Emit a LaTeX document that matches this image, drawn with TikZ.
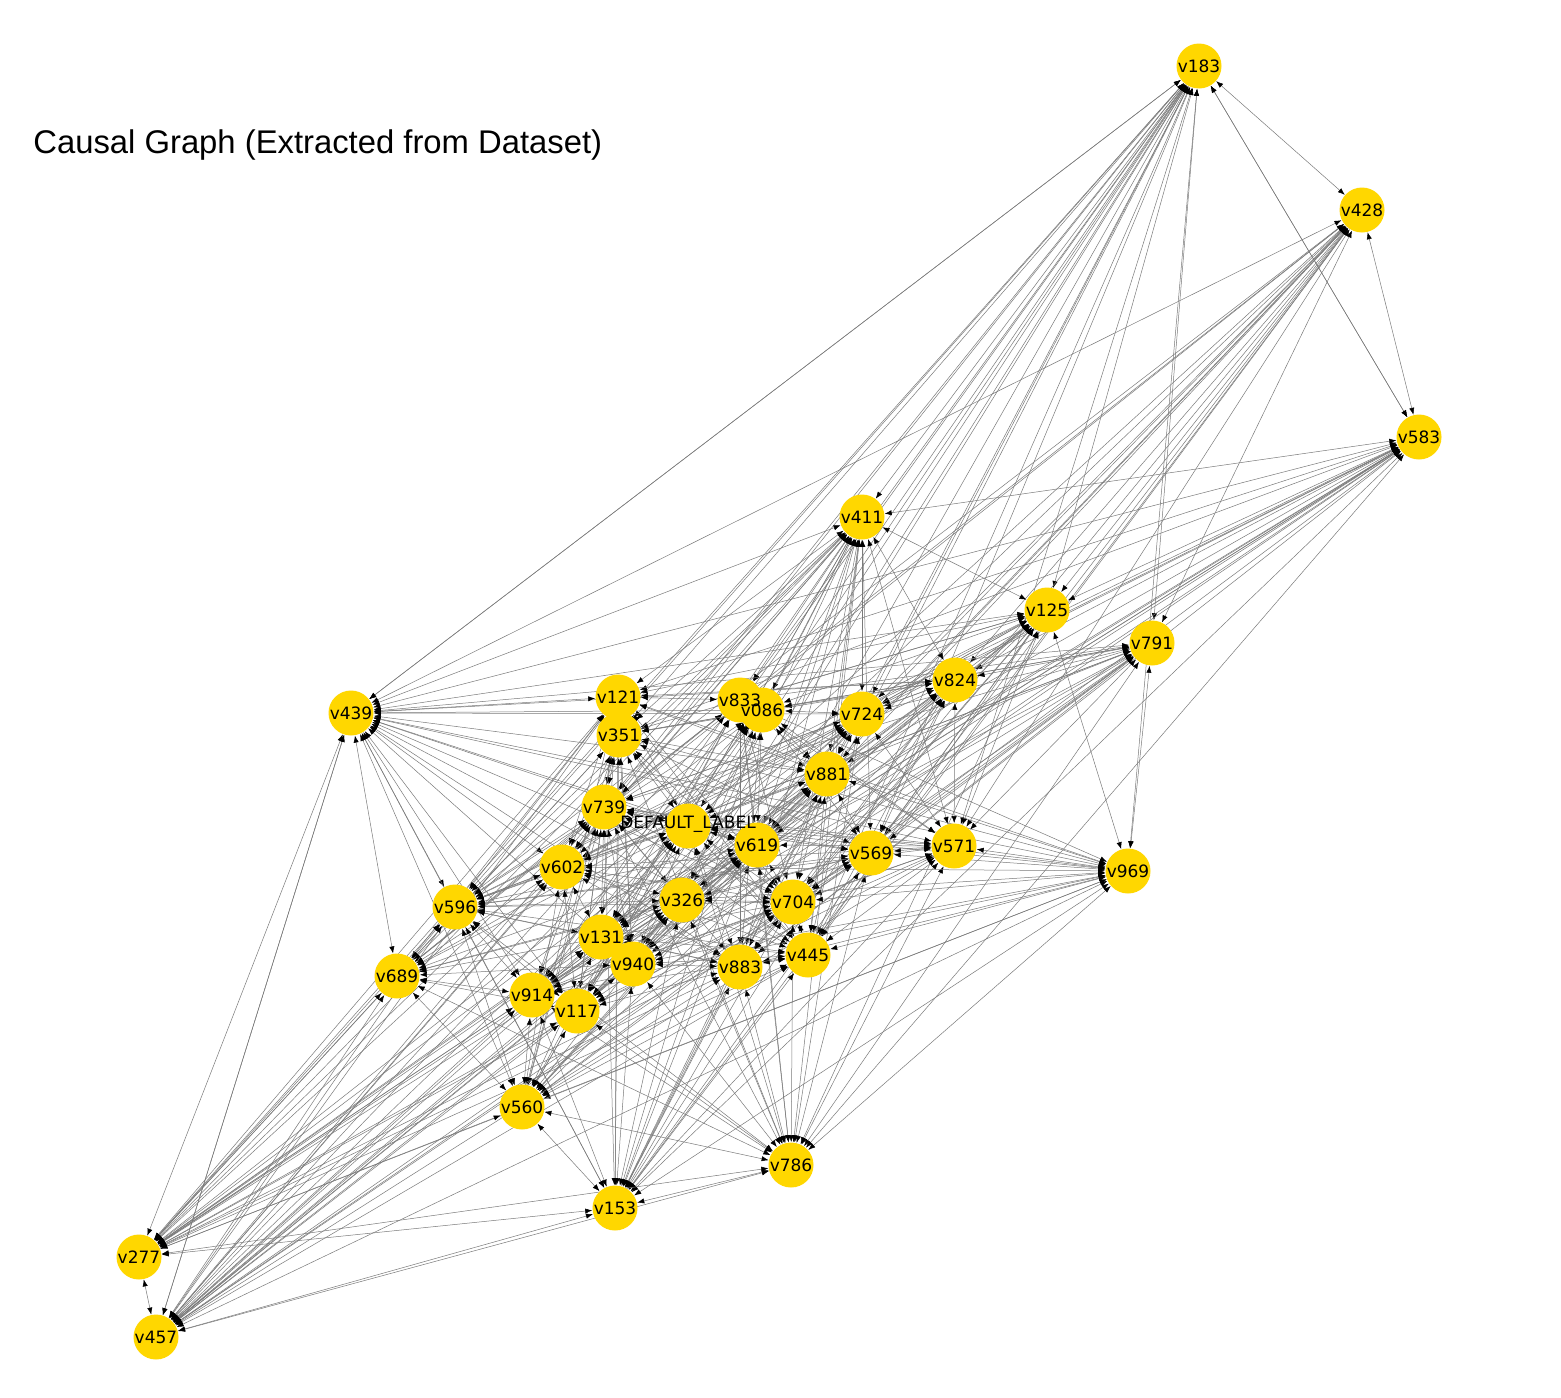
\documentclass[tikz,border=0pt]{standalone}
\usepackage{fontspec}
\setmainfont{DejaVu Sans}
\newfontfamily\titlefont{Liberation Sans}
\usetikzlibrary{arrows.meta}
\definecolor{nodeyellow}{HTML}{FFD700}
\pgfdeclarelayer{edgelayer}
\pgfdeclarelayer{textlayer}
\pgfsetlayers{edgelayer,main,textlayer}
\begin{document}
\begin{tikzpicture}[x=0.5pt,y=-0.5pt,
  vn/.style={circle,fill=nodeyellow,minimum size=22.5pt,inner sep=0pt},
  lbl/.style={inner sep=0pt,font=\fontsize{8.5}{9}\selectfont},
  edge/.style={draw=black!52,line width=0.25pt,>={Latex[length=3.5pt,width=2.6pt,color=black]},<->},
  titlestyle/.style={anchor=base west,inner sep=0pt,font=\titlefont\fontsize{16.4}{20}\selectfont}]
\begin{pgfonlayer}{edgelayer}
\fill[white] (0,0) rectangle (1561,1397);
\end{pgfonlayer}
\useasboundingbox (0,0) rectangle (1561,1397);
\node[titlestyle] (title) at (33,153) {Causal Graph (Extracted from Dataset)};
% nodes
\node[vn,alias=n1]  (v183) at (1199,66)  {};
\node[vn,alias=n2]  (v428) at (1362,210) {};
\node[vn,alias=n3]  (v583) at (1419,437) {};
\node[vn,alias=n4]  (v411) at (862,517)  {};
\node[vn,alias=n5]  (v125) at (1047,610) {};
\node[vn,alias=n6]  (v791) at (1152,643) {};
\node[vn,alias=n7]  (v824) at (955,680)  {};
\node[vn,alias=n8]  (v439) at (351,713)  {};
\node[vn,alias=n9]  (v121) at (618,697)  {};
\node[vn,alias=n10] (v833) at (740,700)  {};
\node[vn,alias=n11] (v086) at (762,710)  {};
\node[vn,alias=n12] (v724) at (862,714)  {};
\node[vn,alias=n13] (v351) at (619,735)  {};
\node[vn,alias=n14] (v881) at (827,774)  {};
\node[vn,alias=n15] (v739) at (604,807)  {};
\node[vn,alias=n16] (dl)   at (688,826)  {};
\node[vn,alias=n17] (v619) at (757,845)  {};
\node[vn,alias=n18] (v569) at (871,853)  {};
\node[vn,alias=n19] (v571) at (954,846)  {};
\node[vn,alias=n20] (v969) at (1128,871) {};
\node[vn,alias=n21] (v602) at (562,867)  {};
\node[vn,alias=n22] (v596) at (455,907)  {};
\node[vn,alias=n23] (v326) at (682,900)  {};
\node[vn,alias=n24] (v704) at (793,902)  {};
\node[vn,alias=n25] (v131) at (601,937)  {};
\node[vn,alias=n26] (v940) at (633,964)  {};
\node[vn,alias=n27] (v883) at (740,967)  {};
\node[vn,alias=n28] (v445) at (808,955)  {};
\node[vn,alias=n29] (v689) at (397,976)  {};
\node[vn,alias=n30] (v914) at (532,995)  {};
\node[vn,alias=n31] (v117) at (577,1011) {};
\node[vn,alias=n32] (v560) at (522,1107) {};
\node[vn,alias=n33] (v786) at (791,1165) {};
\node[vn,alias=n34] (v153) at (615,1208) {};
\node[vn,alias=n35] (v277) at (139,1257) {};
\node[vn,alias=n36] (v457) at (156,1337) {};
% texts on top of all circles
\begin{pgfonlayer}{textlayer}
\foreach \n in {v183,v428,v583,v411,v125,v791,v824,v439,v121,v833,v086,v724,v351,v881,v739,v619,v569,v571,v969,v602,v596,v326,v704,v131,v940,v883,v445,v689,v914,v117,v560,v786,v153,v277,v457}
  {\node[lbl] (\n-t) at (\n) {\n};}
\node[lbl] (dl-t) at ([yshift=1pt]dl.center) {DEFAULT\_LABEL};
\end{pgfonlayer}
% edges
\begin{pgfonlayer}{edgelayer}
\pgfmathsetseed{7}
\foreach \i in {1,...,35}{
  \pgfmathtruncatemacro\ja{\i+1}
  \foreach \j in {\ja,...,36}{
    \pgfmathsetmacro\rr{rnd}
    \ifdim\rr pt<0.68pt \draw[edge] (n\i) -- (n\j); \fi
  }
}
\draw[edge] (v183) -- (v428);
\draw[edge] (v428) -- (v583);
\draw[edge] (v183) -- (v583);
\draw[edge] (v277) -- (v457);
\draw[edge] (v439) -- (v277);
\draw[edge] (v439) -- (v457);
\draw[edge] (v183) -- (v439);
\end{pgfonlayer}
\end{tikzpicture}
\end{document}
